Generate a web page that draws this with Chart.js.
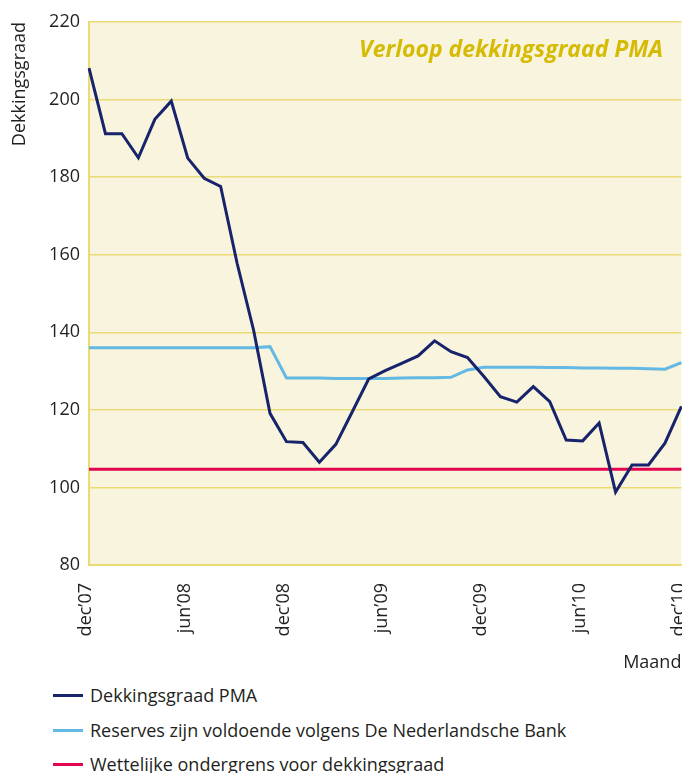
<!DOCTYPE html>
<html>
<head>
<meta charset="utf-8">
<script src="https://cdn.jsdelivr.net/npm/chart.js@4"></script>
<style>
    body { margin: 0; background: #fff; font-family: "Open Sans", sans-serif; color: #231f20; }
    #wrap { position: relative; width: 682px; height: 773px; overflow: hidden; }
    #box { position: absolute; left: 0; top: 0; width: 721px; height: 674px; }
    #title {
        position: absolute; right: 19px; top: 32px;
        font: italic 700 23px "Open Sans", sans-serif; color: #d6bb05; white-space: nowrap;
    }
    #legend { position: absolute; left: 0; top: 678px; }
    .item { position: relative; height: 34.5px; line-height: 34.5px; font-size: 18px; padding-left: 90px; white-space: nowrap; }
    .item span { position: absolute; left: 53px; top: 16px; width: 30px; height: 3px; }
</style>
</head>
<body>
<div id="wrap">
    <div id="box"><canvas id="myChart"></canvas></div>
    <div id="title">Verloop dekkingsgraad PMA</div>
    <div id="legend"></div>
</div>
<script>
// one label per month, dec'07 .. dec'10
const months = [
    "dec’07", "jan’08", "feb’08", "mrt’08", "apr’08", "mei’08", "jun’08", "jul’08", "aug’08", "sep’08", "okt’08", "nov’08",
    "dec’08", "jan’09", "feb’09", "mrt’09", "apr’09", "mei’09", "jun’09", "jul’09", "aug’09", "sep’09", "okt’09", "nov’09",
    "dec’09", "jan’10", "feb’10", "mrt’10", "apr’10", "mei’10", "jun’10", "jul’10", "aug’10", "sep’10", "okt’10", "nov’10",
    "dec’10"
];
const shownTicks = ["dec’07", "jun’08", "dec’08", "jun’09", "dec’09", "jun’10", "dec’10"];
const yTicks = [80, 100, 120, 140, 160, 180, 200, 220];

const dekkingsgraad = [
    208.1, 191.2, 191.2, 185.0, 194.9, 199.6, 184.9, 179.7, 177.6, 157.8, 140.6, 119.1,
    111.8, 111.6, 106.5, 111.1, 119.5, 128.0, 130.1, 132.0, 133.9, 137.8, 135.0, 133.5,
    128.6, 123.4, 122.0, 126.0, 122.1, 112.2, 112.0, 116.6, 98.8, 105.8, 105.8, 111.4,
    120.9
];
const reserves = [
    136.0, 136.0, 136.0, 136.0, 136.0, 136.0, 136.0, 136.0, 136.0, 136.0, 136.0, 136.3,
    128.2, 128.2, 128.2, 128.1, 128.1, 128.1, 128.1, 128.2, 128.3, 128.3, 128.4, 130.3,
    131.0, 131.0, 131.0, 131.0, 130.9, 130.9, 130.8, 130.8, 130.7, 130.7, 130.6, 130.5,
    132.2
];
const ondergrens = [
    104.7, 104.7, 104.7, 104.7, 104.7, 104.7, 104.7, 104.7, 104.7, 104.7, 104.7, 104.7,
    104.7, 104.7, 104.7, 104.7, 104.7, 104.7, 104.7, 104.7, 104.7, 104.7, 104.7, 104.7,
    104.7, 104.7, 104.7, 104.7, 104.7, 104.7, 104.7, 104.7, 104.7, 104.7, 104.7, 104.7,
    104.7
];

const textColor = '#231f20';
const gridColor = '#eadb74';

// cream fill behind the plot
const plotBg = {
    id: 'plotBg',
    beforeDraw(chart) {
        const a = chart.chartArea;
        const ctx = chart.ctx;
        ctx.save();
        ctx.fillStyle = '#f9f4de';
        ctx.fillRect(a.left, a.top, a.right - a.left, a.bottom - a.top);
        ctx.restore();
    }
};

// legend as html, built from the chart's own legend items
const htmlLegend = {
    id: 'htmlLegend',
    afterUpdate(chart) {
        const el = document.getElementById('legend');
        el.innerHTML = '';
        chart.options.plugins.legend.labels.generateLabels(chart).forEach(it => {
            const row = document.createElement('div');
            row.className = 'item';
            const sw = document.createElement('span');
            sw.style.background = it.strokeStyle;
            row.appendChild(sw);
            row.appendChild(document.createTextNode(it.text));
            el.appendChild(row);
        });
    }
};

const ctx = document.getElementById('myChart').getContext('2d');
const myChart = new Chart(ctx, {
    type: 'line',
    data: {
        labels: months,
        datasets: [
            { label: 'Dekkingsgraad PMA', data: dekkingsgraad, borderColor: '#17236a', borderWidth: 3 },
            { label: 'Reserves zijn voldoende volgens De Nederlandsche Bank', data: reserves, borderColor: '#63b8e4', borderWidth: 3 },
            { label: 'Wettelijke ondergrens voor dekkingsgraad', data: ondergrens, borderColor: '#e3064f', borderWidth: 3 }
        ]
    },
    options: {
        responsive: true,
        maintainAspectRatio: false,
        animation: false,
        layout: { padding: { left: 0, right: 0, top: 22, bottom: 0 } },
        elements: { point: { radius: 0 }, line: { tension: 0, fill: false } },
        plugins: {
            legend: { display: false },
            tooltip: { enabled: false }
        },
        scales: {
            x: {
                offset: false,
                grid: { display: false, drawTicks: false },
                border: { display: true, color: gridColor, width: 2 },
                ticks: {
                    autoSkip: false,
                    minRotation: 90,
                    maxRotation: 90,
                    padding: 18,
                    labelOffset: -3,
                    color: textColor,
                    font: { family: 'Open Sans', size: 18 },
                    callback: function (v, i) {
                        const l = months[i];
                        return shownTicks.includes(l) ? l : '';
                    }
                },
                title: {
                    display: true, text: 'Maand', align: 'end', color: textColor,
                    font: { family: 'Open Sans', size: 18 }, padding: { top: 0, bottom: 0 }
                },
                afterFit: function (s) { s.height = 109; }
            },
            y: {
                min: 80,
                max: 220,
                afterBuildTicks: function (s) { s.ticks = yTicks.map(v => ({ value: v })); },
                grid: { color: gridColor, lineWidth: 1.5, drawTicks: false },
                border: { display: true, color: gridColor, width: 2 },
                ticks: { padding: 9, color: textColor, font: { family: 'Open Sans', size: 18 } },
                title: {
                    display: true, text: 'Dekkingsgraad', align: 'end', color: textColor,
                    font: { family: 'Open Sans', size: 18 }, padding: { top: 9, bottom: 0 }
                },
                afterFit: function (s) { s.width = 89; }
            }
        }
    },
    plugins: [plotBg, htmlLegend]
});
</script>
</body>
</html>
